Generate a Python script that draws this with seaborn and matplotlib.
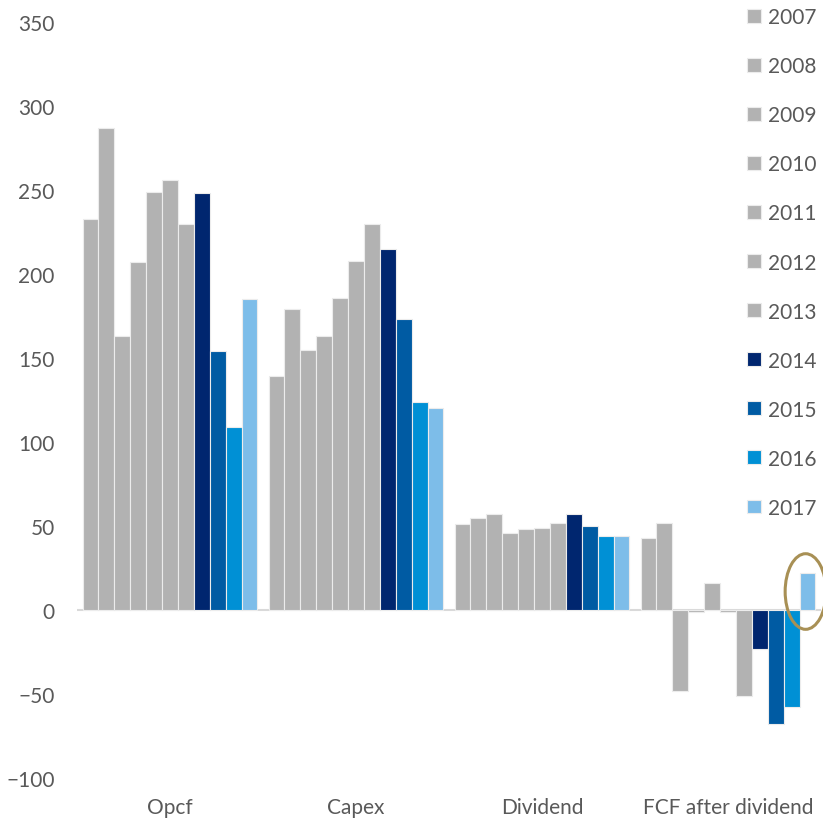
import pandas as pd
import matplotlib.pyplot as plt
import seaborn as sns
from matplotlib.patches import Ellipse

# Valeurs
categories = ['Opcf', 'Capex', 'Dividend', 'FCF after dividend']
years = ['2007', '2008', '2009', '2010', '2011', '2012', '2013', '2014', '2015', '2016', '2017']

opcf = [233, 287, 163, 207, 249, 256, 230, 248, 154, 109, 185]
capex = [139, 179, 155, 163, 186, 208, 230, 215, 173, 124, 120]
dividend = [51, 55, 57, 46, 48, 49, 52, 57, 50, 44, 44]
fcf = [43, 52, -48, -1, 16, -1, -51, -23, -68, -58, 22]

colors = ['#b2b2b2'] * 7 + ['#00266f', '#005ba3', '#0090d5', '#7dbde9']

rows = []
for cat, vals in zip(categories, [opcf, capex, dividend, fcf]):
    for yr, v in zip(years, vals):
        rows.append({'category': cat, 'year': yr, 'value': v})
df = pd.DataFrame(rows)

sns.set_theme(style='white')
plt.rcParams['font.family'] = ['Lato', 'DejaVu Sans']
text_color = '#595959'

fig = plt.figure(figsize=(8.23, 8.2), dpi=100)
ax = fig.add_axes([77 / 823, 41 / 820, 744 / 823, 756 / 820])

sns.barplot(data=df, x='category', y='value', hue='year', order=categories,
            hue_order=years, palette=dict(zip(years, colors)), width=0.94,
            errorbar=None, edgecolor='#ececec', linewidth=0.8, saturation=1,
            ax=ax)

ax.set_xlim(-0.5, 3.5)
ax.set_ylim(-100, 350)
ax.set_yticks(range(-100, 351, 50))
ax.axhline(0, color='#d9d9d9', lw=1.5, zorder=0)
sns.despine(ax=ax, left=True, bottom=True)
ax.set_xlabel('')
ax.set_ylabel('')
ax.tick_params(axis='y', length=0, pad=16, labelsize=15, labelcolor=text_color)
ax.tick_params(axis='x', length=0, pad=14, labelsize=15, labelcolor=text_color)

# Ellipse autour de la barre 2017 du FCF
bar_w = 0.94 / len(years)
x17 = 3 - 0.47 + bar_w * 10.5
ax.add_patch(Ellipse((x17 - 0.01, 11), 0.22, 45, fill=False,
                     edgecolor='#a89055', lw=2.2, clip_on=False))

handles, labels = ax.get_legend_handles_labels()
ax.legend(handles, labels, loc='upper left', bbox_to_anchor=(747 / 823, 0.99),
          bbox_transform=fig.transFigure, frameon=False, fontsize=15,
          labelcolor=text_color, handlelength=0.65, handleheight=0.65,
          handletextpad=0.35, labelspacing=1.395, borderpad=0, borderaxespad=0)

fig.savefig('out.png', dpi=100)
